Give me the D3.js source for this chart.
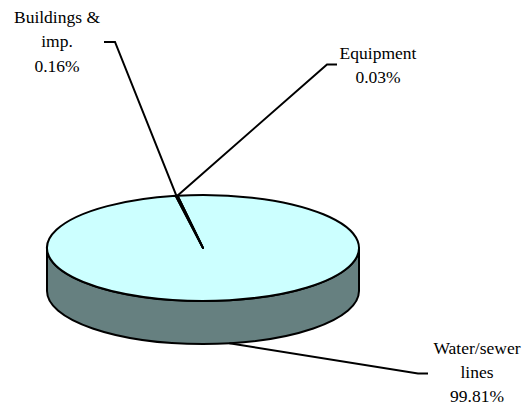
<!DOCTYPE html>
<meta charset="utf-8">
<style>
body { margin: 0; background: #fff; }
</style>
<body>
<div id="chart"></div>
<script src="https://cdn.jsdelivr.net/npm/d3@7"></script>
<script>
// data
var categories = ["Water/sewer lines", "Buildings & imp.", "Equipment"];
var labelLines = [["Water/sewer", "lines"], ["Buildings &", "imp."], ["Equipment"]];
var shares = [99.81, 0.16, 0.03];

// layout
var W = 531, H = 410;
var cx = 203, cy = 248, rx = 156, ry = 53, depth = 43;
var startDeg = -9.4;
// where each label sits: text centre x, first baseline, elbow point, end of leader
var labelPos = [
  {x: 477, y: 353.5, elbow: [418, 373.5], end: [428, 373.5], bottom: true},
  {x: 57, y: 23, elbow: [115, 42], end: [104, 42]},
  {x: 378, y: 58.5, elbow: [327, 64.5], end: [337, 64.5]}
];
var lineGap = 24.3;
var topColor = "#ccffff", sideColor = "#668080";

var svg = d3.select("#chart").append("svg")
    .attr("width", W)
    .attr("height", H);

var rad = Math.PI / 180;
var pie = d3.pie().sort(null)
    .startAngle(startDeg * rad)
    .endAngle((startDeg + 360) * rad);
var arcs = pie(shares);

function pt(a, dy) {
  return [cx + rx * Math.sin(a), cy - ry * Math.cos(a) + (dy || 0)];
}

// sides (only the front half shows)
arcs.forEach(function(d) {
  var lo = Math.PI / 2, hi = 3 * Math.PI / 2;
  [0, 2 * Math.PI, -2 * Math.PI].forEach(function(off) {
    var a = Math.max(d.startAngle + off, lo), b = Math.min(d.endAngle + off, hi);
    if (b <= a) return;
    var p1 = pt(a), p2 = pt(b), p3 = pt(b, depth), p4 = pt(a, depth);
    var path = "M" + p1 + "A" + rx + "," + ry + " 0 0 1 " + p2 +
      "L" + p3 + "A" + rx + "," + ry + " 0 0 0 " + p4 + "Z";
    svg.append("path")
      .attr("d", path)
      .attr("fill", sideColor)
      .attr("stroke", "#000")
      .attr("stroke-width", 2)
      .attr("stroke-linejoin", "round");
  });
});

// top faces
svg.selectAll(".slice")
  .data(arcs)
  .enter().append("path")
  .attr("class", "slice")
  .attr("d", function(d) {
    var p1 = pt(d.startAngle), p2 = pt(d.endAngle);
    var large = (d.endAngle - d.startAngle) > Math.PI ? 1 : 0;
    return "M" + cx + "," + cy + "L" + p1 + "A" + rx + "," + ry + " 0 " + large + " 1 " + p2 + "Z";
  })
  .attr("fill", topColor)
  .attr("stroke", "#000")
  .attr("stroke-width", 2)
  .attr("stroke-linejoin", "round");

// leader lines and labels
arcs.forEach(function(d, i) {
  var lp = labelPos[i];
  var mid = (d.startAngle + d.endAngle) / 2;
  var from = pt(mid, lp.bottom ? depth : 0);
  svg.append("path")
    .attr("d", "M" + from + "L" + lp.elbow + "L" + lp.end)
    .attr("fill", "none")
    .attr("stroke", "#000")
    .attr("stroke-width", 2);

  var lines = labelLines[i].concat([d3.format(".2f")(shares[i]) + "%"]);
  var t = svg.append("text")
    .attr("font-family", "Liberation Serif")
    .attr("font-size", 17.5)
    .attr("fill", "#000")
    .attr("text-anchor", "middle");
  lines.forEach(function(s, j) {
    t.append("tspan")
      .attr("x", lp.x)
      .attr("y", lp.y + j * lineGap)
      .text(s);
  });
});
</script>
</body>
